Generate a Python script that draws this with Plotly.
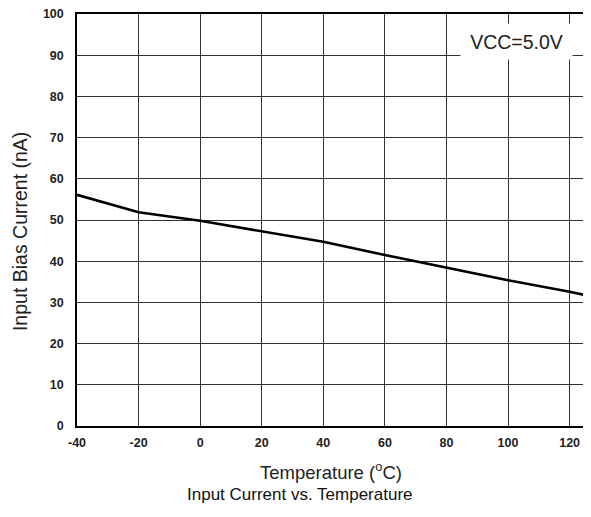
import plotly.graph_objects as go

temperature_c = [-40, -20, 0, 20, 40, 60, 80, 100, 120, 125]
bias_current_na = [56.1, 51.9, 49.8, 47.3, 44.7, 41.5, 38.4, 35.4, 32.6, 31.8]
x_ticks = [-40, -20, 0, 20, 40, 60, 80, 100, 120]
x_tick_labels = ["-40", "-20", "0", "20", "40", "60", "80", "100", "120"]
y_ticks = [0, 10, 20, 30, 40, 50, 60, 70, 80, 90, 100]

fig = go.Figure()
fig.add_trace(go.Scatter(x=temperature_c, y=bias_current_na, mode="lines",
                         line=dict(color="black", width=2.6), showlegend=False))

# page body adds an 8px offset; margins compensate for it
fig.update_layout(
    width=583, height=509,
    margin=dict(l=69, r=6, t=6, b=91),
    paper_bgcolor="white", plot_bgcolor="white",
    font=dict(family="Liberation Sans, Arial, sans-serif", color="#222"),
)
fig.update_xaxes(range=[-40, 125], tickvals=x_ticks, ticktext=x_tick_labels, automargin=False,
                 ticklabeloverflow="allow",
                 showgrid=True, gridcolor="#333", gridwidth=1,
                 zeroline=False, showline=True, linecolor="black", linewidth=1.5, mirror=True,
                 ticks="outside", ticklen=4, tickcolor="rgba(0,0,0,0)",
                 tickfont=dict(size=12.5, weight="bold", color="#222"),
                 title=dict(text="Temperature (<sup>o</sup>C)", font=dict(size=18.5, color="#222"), standoff=17))
fig.update_yaxes(range=[0, 100], tickvals=y_ticks, automargin=False,
                 ticklabeloverflow="allow",
                 showgrid=True, gridcolor="#333", gridwidth=1,
                 zeroline=False, showline=True, linecolor="black", linewidth=1.5, mirror=True,
                 ticks="outside", ticklen=9, tickcolor="rgba(0,0,0,0)",
                 tickfont=dict(size=12.5, weight="bold", color="#222"))

fig.add_annotation(x=-0.112, y=0.471, xref="paper", yref="paper", textangle=-90,
                   xanchor="center", yanchor="middle",
                   text="Input Bias Current (nA)", showarrow=False,
                   font=dict(size=19.5, color="#222"))
fig.add_annotation(x=102.7, y=93.3, xref="x", yref="y", text="VCC=5.0V", showarrow=False,
                   bgcolor="white", width=109, height=33, font=dict(size=19.5, color="#222"))
fig.add_annotation(x=0.439, y=-0.166, xref="paper", yref="paper", xanchor="center", yanchor="middle",
                   text="Input Current vs. Temperature", showarrow=False,
                   font=dict(size=17, color="#111"))

fig.write_html("out.html")
